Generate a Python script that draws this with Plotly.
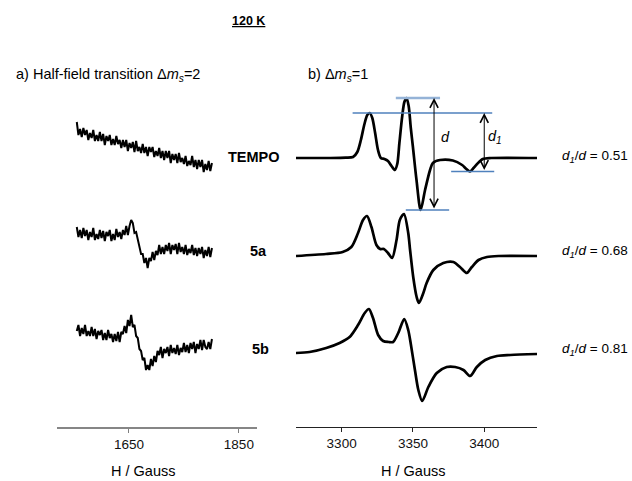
import plotly.graph_objects as go

W, H = 632, 481

# ---------------- data ----------------
# a) half-field region (Gauss) – shared field grid
FIELD_LF = [1555, 1558, 1561, 1564, 1567, 1570, 1573, 1576, 1579, 1582,
            1585, 1588, 1591, 1594, 1597, 1600, 1603, 1606, 1609, 1612,
            1615, 1618, 1621, 1624, 1627, 1630, 1633, 1636, 1639, 1642,
            1645, 1648, 1651, 1654, 1657, 1660, 1663, 1666, 1669, 1672,
            1675, 1678, 1681, 1684, 1687, 1690, 1693, 1696, 1699, 1702,
            1705, 1708, 1711, 1714, 1717, 1720, 1723, 1726, 1729, 1732,
            1735, 1738, 1741, 1744, 1747, 1750, 1753, 1756, 1759, 1762,
            1765, 1768, 1771, 1774, 1777, 1780, 1783, 1786, 1789, 1792,
            1795, 1798, 1801]

TEMPO_LF = [36, 23, 29, 21, 30, 23, 28, 18, 25, 20,
            28, 17, 23, 17, 26, 17, 24, 13, 22, 17,
            23, 13, 19, 13, 22, 14, 18, 10, 18, 11,
            18, 7, 15, 10, 16, 6, 17, 7, 11, 5,
            14, 5, 11, 2, 11, 6, 11, 1, 7, 2,
            10, 0, 7, -2, 7, 0, 7, -5, 4, -2,
            4, -5, 5, -4, 0, -6, 2, -8, -3, -7,
            2, -9, -2, -11, -2, -9, -2, -14, -6, -12,
            -3, -13, -5]

S5A_LF = [29, 19, 26, 18, 28, 20, 26, 16, 24, 19,
          28, 16, 22, 17, 26, 18, 25, 15, 24, 20,
          26, 15, 22, 16, 27, 19, 24, 17, 26, 21,
          30, 21, 30, 36, 33, 23, 24, 16, 11, 2,
          2, -7, -2, -12, -2, -5, 4, -4, 5, 1,
          11, 2, 9, 2, 11, 5, 13, 2, 11, 6,
          12, 2, 13, 4, 9, 2, 11, 1, 7, 3,
          11, 1, 8, 0, 8, 2, 9, -2, 6, 0,
          9, -1, 8]

S5B_LF = [23, 29, 18, 26, 20, 29, 18, 23, 18, 27,
          18, 25, 15, 23, 19, 24, 14, 21, 14, 24,
          16, 20, 12, 20, 13, 22, 12, 22, 20, 28,
          21, 34, 28, 39, 27, 29, 18, 16, 5, 3,
          -6, -4, -16, -11, -16, -5, -12, -2, -8, 3,
          -1, 7, -4, 5, 1, 7, -2, 9, 1, 6,
          0, 9, -1, 6, 2, 11, 2, 9, 1, 11,
          5, 12, 1, 10, 5, 14, 4, 14, 7, 5,
          12, 5, 15]

# b) Δms = 1 region
TEMPO_G = [3268, 3290, 3303, 3308, 3311, 3313.5, 3316, 3318, 3319.7, 3321.5,
           3323.5, 3325.5, 3327.5, 3330, 3332.5, 3335, 3337.3, 3339, 3340.5, 3342.5,
           3344, 3345.5, 3347, 3348.5, 3350, 3352.5, 3355.4, 3358.5, 3362, 3364,
           3369, 3378, 3384.5, 3387.5, 3390, 3392.5, 3395, 3399, 3405, 3437]
TEMPO_I = [0, 0, 0.3, 1, 6, 18, 34, 43, 45, 40,
           25, 8, 0, -1, -3, -8, -12, -6, 15, 42,
           56, 60, 52, 30, 11, -22, -52, -32, -12, -5,
           -2, -2.5, -7, -11, -13.5, -10, -6, -1, 0, 0]

S5A_G = [3268, 3289, 3300.7, 3306.8, 3311.5, 3315, 3317.8, 3320.9, 3324.4, 3327,
         3329.6, 3332.5, 3335.4, 3338.5, 3340.8, 3343.7, 3346.7, 3348, 3350.2, 3352.6,
         3354.2, 3357.3, 3359.6, 3364.3, 3371.3, 3378.4, 3383, 3387.8, 3391.3, 3396,
         3401.9, 3410, 3437]
S5A_I = [0, 2, 4, 9, 23, 36, 40, 29, 11, 7,
         7, 3, -2, 16, 36, 42, 23, 6, -21, -41,
         -47, -37, -27, -14, -7, -6, -11, -17, -11, -4,
         -1, 0, 0]

S5B_G = [3268, 3277.5, 3289.2, 3298.6, 3305.6, 3311.5, 3316.2, 3319.1, 3322, 3325.6,
         3329.1, 3333, 3336.1, 3339.7, 3343.9, 3346.7, 3348.5, 3351.4, 3353.8, 3356.5,
         3360.8, 3366.7, 3373.7, 3379.6, 3385.4, 3390.1, 3394.8, 3400.7, 3408.9, 3418.3,
         3437]
S5B_I = [1, 2, 6, 11, 17, 29, 41, 45, 36, 19,
         13, 12, 12, 21, 35, 24, 10, -16, -36, -47,
         -33, -19, -13, -13, -16, -22, -13, -6, -2, -1,
         0]

SAMPLES = ["TEMPO", "5a", "5b"]
RATIOS = ["0.51", "0.68", "0.81"]
LF_TICKS = [1650, 1850]
HF_TICKS = [3300, 3350, 3400]

# ---------------- layout constants ----------------
ROW_OFFSET = {"TEMPO": 269, "5a": 171, "5b": 73}
FONT = "Arial, Liberation Sans, sans-serif"
FS = 14.5

fig = go.Figure()

lf = {"TEMPO": TEMPO_LF, "5a": S5A_LF, "5b": S5B_LF}
hf = {"TEMPO": (TEMPO_G, TEMPO_I), "5a": (S5A_G, S5A_I), "5b": (S5B_G, S5B_I)}

for s in SAMPLES:
    off = ROW_OFFSET[s]
    fig.add_trace(go.Scatter(x=FIELD_LF, y=[v + off for v in lf[s]], mode="lines",
                             line=dict(color="black", width=2),
                             xaxis="x", yaxis="y", hoverinfo="skip"))
    g, i = hf[s]
    fig.add_trace(go.Scatter(x=g, y=[v + off for v in i], mode="lines",
                             line=dict(color="black", width=2.7, shape="spline", smoothing=0.8),
                             xaxis="x2", yaxis="y", hoverinfo="skip"))

fig.update_layout(
    width=W, height=H, margin=dict(l=0, r=0, t=0, b=0),
    paper_bgcolor="white", plot_bgcolor="white", showlegend=False,
    font=dict(family=FONT, size=FS, color="black"),
    xaxis=dict(domain=[57 / W, 257 / W], range=[1519, 1883], tickvals=LF_TICKS,
               ticks="outside", ticklen=4, tickcolor="#7f7f7f", showline=True,
               linecolor="#868686", linewidth=1.5, showgrid=False, zeroline=False,
               anchor="y", tickfont=dict(size=13.5, color="#111", family=FONT)),
    xaxis2=dict(domain=[296 / W, 537 / W], range=[3268, 3437], tickvals=HF_TICKS,
                ticks="outside", ticklen=4, tickcolor="#222", showline=True,
                linecolor="#222", linewidth=1.2, showgrid=False, zeroline=False,
                anchor="y", tickfont=dict(size=13.5, color="#111", family=FONT)),
    yaxis=dict(domain=[1 - 427 / H, 1], range=[0, 427], visible=False, fixedrange=True),
)

# measurement guides on TEMPO spectrum
off = ROW_OFFSET["TEMPO"]
d_top = max(TEMPO_I) + off
d_bot = min(TEMPO_I) + off
p1 = max(v for g, v in zip(TEMPO_G, TEMPO_I) if g < 3330) + off
dip = min(v for g, v in zip(TEMPO_G, TEMPO_I) if g > 3375) + off

blue = "#4F81BD"
shapes = [
    dict(x0=3338, x1=3369, y0=d_top, y1=d_top, color="#95B3D7", w=2.5),
    dict(x0=3307.7, x1=3405.6, y0=p1, y1=p1, color=blue, w=1.3),
    dict(x0=3345, x1=3375.4, y0=d_bot, y1=d_bot, color=blue, w=1.3),
    dict(x0=3376.8, x1=3407, y0=dip, y1=dip, color=blue, w=1.3),
]
for s in shapes:
    fig.add_shape(type="line", xref="x2", yref="y", x0=s["x0"], x1=s["x1"],
                  y0=s["y0"], y1=s["y1"], line=dict(color=s["color"], width=s["w"]))

for xg, ytop, ybot in [(3364.8, d_top, d_bot), (3400, p1, dip)]:
    fig.add_annotation(x=xg, y=ytop, ax=xg, ay=ybot, xref="x2", yref="y",
                       axref="x2", ayref="y", text="", showarrow=True,
                       arrowhead=5, startarrowhead=5, arrowside="end+start",
                       arrowsize=1.6, startarrowsize=1.6, arrowwidth=1,
                       arrowcolor="black", standoff=0, startstandoff=0)

fig.add_annotation(x=3372.5, y=off + 21, xref="x2", yref="y", text="<i>d</i>",
                   showarrow=False, font=dict(size=FS, family=FONT))
fig.add_annotation(x=3407.5, y=off + 21, xref="x2", yref="y",
                   text="<i>d</i><sub><i>1</i></sub>", showarrow=False,
                   font=dict(size=FS, family=FONT))


def ptxt(x, y, text, xanchor="center", size=FS, yanchor="middle"):
    fig.add_annotation(x=x / W, y=1 - y / H, xref="paper", yref="paper", text=text,
                       showarrow=False, xanchor=xanchor, yanchor=yanchor,
                       font=dict(size=size, family=FONT, color="black"))


ptxt(248, 21, "<b><u>120 K</u></b>", size=12.5)
ptxt(14, 75, "a) Half-field transition Δ<i>m</i><sub><i>s</i></sub>=2", xanchor="left")
ptxt(306, 75, "b) Δ<i>m</i><sub><i>s</i></sub>=1", xanchor="left")

label_pos = {"TEMPO": (254, 157), "5a": (258.5, 251), "5b": (260, 349)}
for s, r in zip(SAMPLES, RATIOS):
    lx, ly = label_pos[s]
    ptxt(lx, ly, f"<b>{s}</b>")
    ptxt(560, ly, f"<i>d</i><sub><i>1</i></sub>/<i>d</i> = {r}", xanchor="left", size=13.5)

ptxt(142.5, 471, "H / Gauss")
ptxt(413, 471, "H / Gauss")

fig.write_html("out.html", config={"displayModeBar": False},
               post_script="document.body.style.margin='0';")
